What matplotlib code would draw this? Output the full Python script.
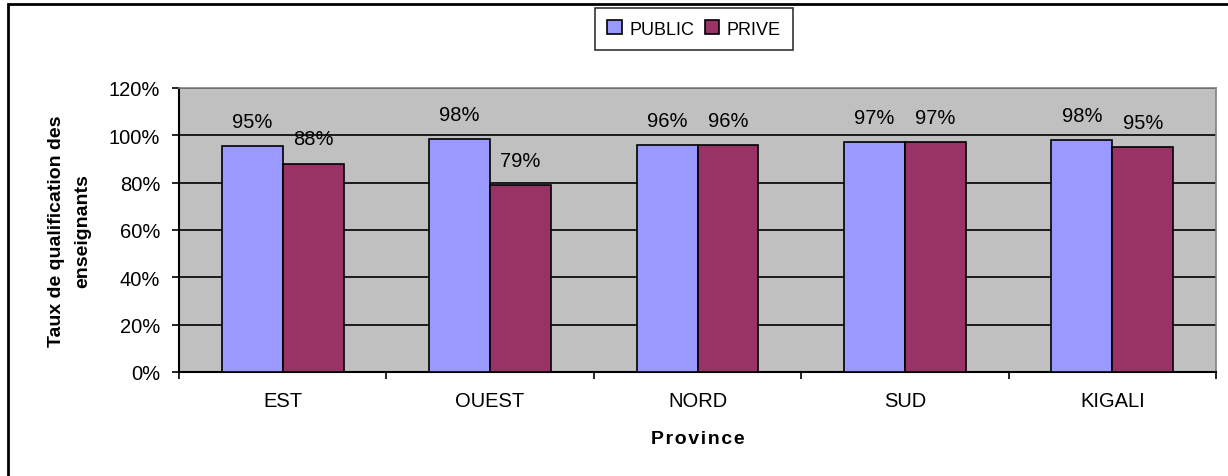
import numpy as np
import matplotlib.pyplot as plt
from matplotlib.patches import Rectangle

provinces = ['EST', 'OUEST', 'NORD', 'SUD', 'KIGALI']
public = [95.5, 98.4, 96, 97, 98]
prive = [88, 79, 96, 97, 95]
public_labels = ['95%', '98%', '96%', '97%', '98%']
prive_labels = ['88%', '79%', '96%', '97%', '95%']

plt.rcParams['font.family'] = ['Liberation Sans', 'DejaVu Sans']

fig = plt.figure(figsize=(12.28, 4.77), dpi=100)
W, H = 1228, 477
# plot area in pixels: x 179..1216, y 89..373
ax = fig.add_axes([179 / W, 1 - 373 / H, (1216 - 179) / W, (373 - 89) / H])

x = np.arange(len(provinces))
w = 0.294
b1 = ax.bar(x - w / 2, public, w, color='#9999FF', edgecolor='black', lw=1.2,
            label='PUBLIC', zorder=3)
b2 = ax.bar(x + w / 2, prive, w, color='#993366', edgecolor='black', lw=1.2,
            label='PRIVE', zorder=3)

# data labels
for bars, labs in ((b1, public_labels), (b2, prive_labels)):
    for r, t in zip(bars, labs):
        ax.annotate(t, (r.get_x() + r.get_width() / 2, r.get_height()),
                    xytext=(0, 11), textcoords='offset points',
                    ha='center', va='bottom', fontsize=14.5, zorder=4)

ax.set_facecolor('#C0C0C0')
ax.set_xlim(-0.5, len(provinces) - 0.5)
ax.set_ylim(0, 120)
ax.set_yticks(np.arange(0, 121, 20))
ax.set_yticklabels(['%d%%' % v for v in range(0, 121, 20)], fontsize=14.5)
ax.yaxis.grid(True, color='black', lw=1.2, zorder=1)
ax.set_axisbelow(True)

# category labels centred, ticks on boundaries
ax.set_xticks(x)
ax.set_xticklabels(provinces, fontsize=14.5)
ax.tick_params(axis='x', length=0, pad=14)
ax.set_xticks(np.arange(-0.5, len(provinces)), minor=True)
ax.tick_params(axis='x', which='minor', length=5, width=1.2, direction='out')
ax.tick_params(axis='y', length=5, width=1.2, direction='out', pad=8.5)

for s in ('top', 'right'):
    ax.spines[s].set_color('#808080')
    ax.spines[s].set_linewidth(1.2)
for s in ('left', 'bottom'):
    ax.spines[s].set_color('black')
    ax.spines[s].set_linewidth(1.5)

ax.set_ylabel('Taux de qualification des\nenseignants', fontsize=14,
              fontweight='bold', labelpad=13, linespacing=1.65)
ax.set_xlabel('P r o v i n c e'.replace(' ', '\u200a'), fontsize=14,
              fontweight='bold', labelpad=14)

leg = fig.legend(loc='center', bbox_to_anchor=(694 / W, 1 - 30 / H), ncol=2,
                 fontsize=13, frameon=True, fancybox=False, edgecolor='black',
                 handlelength=0.8, handleheight=0.8, handletextpad=0.4,
                 columnspacing=0.6, borderpad=0.7)
leg.get_frame().set_linewidth(1.2)

# outer chart border (cropped at right and bottom)
fig.patches.append(Rectangle((8 / W, -0.05), 1.1, 1 - 5 / H + 0.05,
                             transform=fig.transFigure, fill=False,
                             edgecolor='black', lw=2, zorder=0))

fig.savefig('out.png', dpi=100)
